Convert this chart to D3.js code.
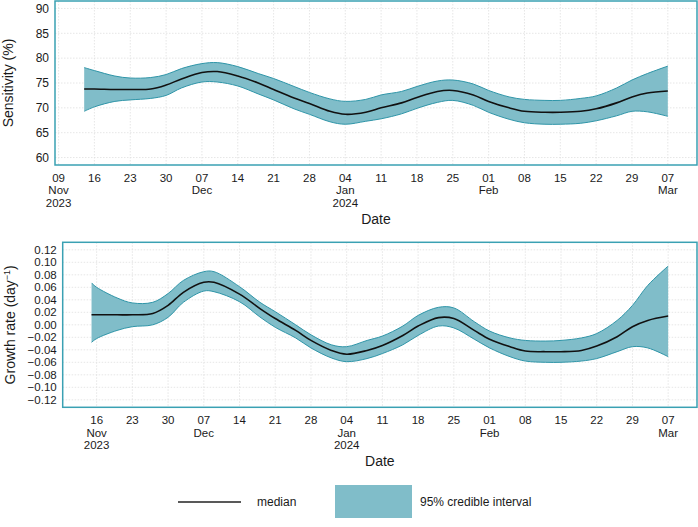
<!DOCTYPE html>
<html>
<head>
<meta charset="utf-8">
<script src="https://cdn.jsdelivr.net/npm/d3@7"></script>
<style>
body { margin:0; background:#fff; }
text { font-family: "Liberation Sans", Arial, sans-serif; fill:#1a1a1a; }
</style>
</head>
<body>
<div id="chart"></div>
<script>
// sensitivity panel (%)
var sensDates = ['2023-11-14','2023-11-16','2023-11-20','2023-11-23','2023-11-27','2023-11-30','2023-12-03','2023-12-07','2023-12-10','2023-12-14','2023-12-18','2023-12-21','2023-12-25','2023-12-28','2024-01-01','2024-01-04','2024-01-08','2024-01-11','2024-01-15','2024-01-18','2024-01-22','2024-01-25','2024-01-29','2024-02-01','2024-02-05','2024-02-08','2024-02-12','2024-02-15','2024-02-19','2024-02-22','2024-02-26','2024-02-29','2024-03-03','2024-03-07'];
var sensUpper  = [78.1,77.5,76.4,76.0,76.1,76.7,77.9,78.9,79.1,78.3,76.9,75.9,74.3,73.1,71.8,71.3,71.7,72.6,73.3,74.3,75.4,75.6,74.8,73.5,72.2,71.7,71.5,71.5,71.9,72.4,74.0,75.6,76.9,78.4];
var sensMedian = [73.8,73.8,73.7,73.7,73.8,74.6,75.8,77.1,77.3,76.4,75.0,73.7,72.0,70.9,69.3,68.7,69.1,70.0,71.0,72.1,73.3,73.5,72.6,71.3,70.0,69.3,69.1,69.1,69.3,69.8,71.0,72.2,73.0,73.4];
var sensLower  = [69.3,70.2,71.3,71.6,71.9,72.5,74.0,75.2,75.2,74.4,72.8,71.6,69.8,68.7,67.2,66.7,67.3,67.8,68.8,69.9,71.1,71.5,70.5,69.1,67.7,67.0,66.7,66.7,66.9,67.4,68.4,69.3,69.2,68.3];
var sensTicks = [60,65,70,75,80,85,90];

// growth rate panel (per day)
var growthDates = ['2023-11-15','2023-11-16','2023-11-20','2023-11-23','2023-11-27','2023-11-30','2023-12-03','2023-12-07','2023-12-09','2023-12-14','2023-12-18','2023-12-21','2023-12-25','2023-12-28','2024-01-01','2024-01-04','2024-01-08','2024-01-11','2024-01-15','2024-01-18','2024-01-22','2024-01-25','2024-01-29','2024-02-01','2024-02-05','2024-02-08','2024-02-12','2024-02-15','2024-02-19','2024-02-22','2024-02-26','2024-02-29','2024-03-03','2024-03-07'];
var growthUpper  = [0.067,0.060,0.043,0.035,0.036,0.050,0.071,0.085,0.085,0.061,0.036,0.021,0.000,-0.016,-0.032,-0.035,-0.025,-0.018,-0.002,0.015,0.028,0.027,0.005,-0.010,-0.021,-0.025,-0.026,-0.025,-0.021,-0.014,0.007,0.031,0.063,0.094];
var growthMedian = [0.016,0.016,0.016,0.016,0.018,0.031,0.052,0.068,0.068,0.049,0.026,0.010,-0.009,-0.025,-0.041,-0.047,-0.041,-0.033,-0.017,-0.002,0.0115,0.010,-0.009,-0.023,-0.035,-0.042,-0.043,-0.043,-0.041,-0.034,-0.019,-0.003,0.007,0.014];
var growthLower  = [-0.028,-0.022,-0.009,-0.003,0.000,0.012,0.036,0.054,0.053,0.037,0.0125,-0.004,-0.021,-0.037,-0.053,-0.059,-0.054,-0.046,-0.032,-0.017,-0.002,-0.005,-0.023,-0.037,-0.051,-0.058,-0.060,-0.060,-0.058,-0.054,-0.043,-0.035,-0.037,-0.051];
var growthTicks = [-0.12,-0.10,-0.08,-0.06,-0.04,-0.02,0,0.02,0.04,0.06,0.08,0.10,0.12];

var parseDate = d3.timeParse('%Y-%m-%d');
var fillCol = '#80bdc9', edgeCol = '#2f95a8', frameCol = '#3aa1b3';

var svg = d3.select('#chart').append('svg')
			.attr('width',698).attr('height',527);

var drawPanel = function(p) {
	var rows = p.dates.map(function(d,i) {
		return {date: parseDate(d), med: p.med[i], lo: p.lo[i], hi: p.hi[i]};
	});
	var ext = d3.extent(rows, d => d.date);
	var padMs = (ext[1]-ext[0])*0.05;
	var x = d3.scaleTime()
				.domain([new Date(+ext[0]-padMs), new Date(+ext[1]+padMs)])
				.range([p.left, p.right]);
	var yMin = p.yTicks[0], yMax = p.yTicks[p.yTicks.length-1];
	var yPad = (yMax-yMin)*0.05;
	var y = d3.scaleLinear()
				.domain([yMin-yPad, yMax+yPad])
				.range([p.bottom, p.top]);
	var xTicks = d3.timeThursday.range(x.domain()[0], x.domain()[1]);

	var g = svg.append('g');
	// grid
	g.selectAll('.vgrid').data(xTicks).enter().append('line')
		.attr('x1', d => x(d)).attr('x2', d => x(d))
		.attr('y1', p.top).attr('y2', p.bottom)
		.attr('stroke','#e0e0e0').attr('stroke-width',0.8)
		.attr('stroke-dasharray','1.5,1.5');
	g.selectAll('.hgrid').data(p.yTicks).enter().append('line')
		.attr('x1', p.left).attr('x2', p.right)
		.attr('y1', d => y(d)).attr('y2', d => y(d))
		.attr('stroke','#e0e0e0').attr('stroke-width',0.8)
		.attr('stroke-dasharray','1.5,1.5');

	// ribbon + median
	var curve = d3.curveCatmullRom;
	g.append('path').datum(rows)
		.attr('d', d3.area().x(d => x(d.date)).y0(d => y(d.lo)).y1(d => y(d.hi)).curve(curve))
		.attr('fill', fillCol);
	['lo','hi'].forEach(function(k) {
		g.append('path').datum(rows)
			.attr('d', d3.line().x(d => x(d.date)).y(d => y(d[k])).curve(curve))
			.attr('fill','none').attr('stroke',edgeCol).attr('stroke-width',1);
	});
	g.append('path').datum(rows)
		.attr('d', d3.line().x(d => x(d.date)).y(d => y(d.med)).curve(curve))
		.attr('fill','none').attr('stroke','#111').attr('stroke-width',1.6);

	// frame
	g.append('rect')
		.attr('x',p.left).attr('y',p.top)
		.attr('width',p.right-p.left).attr('height',p.bottom-p.top)
		.attr('fill','none').attr('stroke',frameCol).attr('stroke-width',1.5);

	// y tick labels
	g.selectAll('.ylab').data(p.yTicks).enter().append('text')
		.attr('x', p.left-6).attr('y', d => y(d)).attr('dy','0.36em')
		.attr('text-anchor','end').style('font-size', p.yFont+'px')
		.text(p.yFormat);

	// x tick labels (day / month / year)
	xTicks.forEach(function(t,i) {
		var prev = xTicks[i-1];
		var lines = [d3.timeFormat('%d')(t)];
		if (!prev || prev.getMonth() != t.getMonth()) lines.push(d3.timeFormat('%b')(t));
		if (!prev || prev.getFullYear() != t.getFullYear()) lines.push(d3.timeFormat('%Y')(t));
		lines.forEach(function(s,j) {
			g.append('text').attr('text-anchor','middle').style('font-size','11.5px')
				.attr('x', x(t)).attr('y', p.bottom+16.6+j*12.6).text(s);
		});
	});

	// axis titles
	g.append('text').attr('x',(p.left+p.right)/2).attr('y',p.bottom+58.7)
		.attr('text-anchor','middle').style('font-size','14px').text('Date');
	var yt = g.append('text')
		.attr('transform','translate('+p.yTitleX+','+((p.top+p.bottom)/2)+') rotate(-90)')
		.attr('text-anchor','middle').style('font-size','14px');
	p.yTitle(yt);
};

drawPanel({
	dates: sensDates, med: sensMedian, lo: sensLower, hi: sensUpper,
	yTicks: sensTicks, yFormat: d3.format('d'), yFont: 12,
	left: 55, right: 697, top: 1, bottom: 165, yTitleX: 13,
	yTitle: function(t) { t.text('Sensitivity (%)'); }
});

drawPanel({
	dates: growthDates, med: growthMedian, lo: growthLower, hi: growthUpper,
	yTicks: growthTicks, yFormat: d3.format('.2f'), yFont: 11.5,
	left: 62.7, right: 697, top: 242.3, bottom: 407.3, yTitleX: 15,
	yTitle: function(t) {
		t.append('tspan').text('Growth rate (day');
		t.append('tspan').attr('baseline-shift','super').style('font-size','9px').text('\u22121');
		t.append('tspan').text(')');
	}
});

// legend
var leg = svg.append('g');
leg.append('line').attr('x1',178).attr('x2',241).attr('y1',502).attr('y2',502)
	.attr('stroke','#222').attr('stroke-width',1.6);
leg.append('text').attr('x',257).attr('y',502).attr('dy','0.36em')
	.style('font-size','12px').text('median');
leg.append('rect').attr('x',335).attr('y',485).attr('width',77).attr('height',33)
	.attr('fill',fillCol);
leg.append('text').attr('x',420).attr('y',502).attr('dy','0.36em')
	.style('font-size','12px').text('95% credible interval');
</script>
</body>
</html>
